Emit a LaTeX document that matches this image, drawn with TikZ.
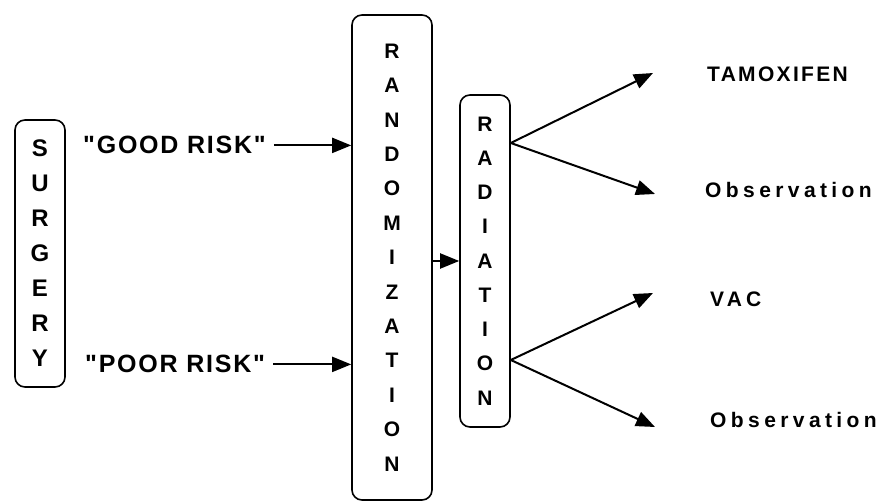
\documentclass[tikz,border=0pt]{standalone}
\usepackage{fontspec}
\setmainfont{Liberation Sans}[Ligatures=TeXOff]
\usetikzlibrary{arrows.meta,calc}

\tikzset{
vbox/.style={draw,line width=1.6pt,rounded corners=10pt,align=center,inner sep=0pt},
lbl/.style={inner sep=0pt,anchor=base west},
arr/.style={line width=2pt,-{Triangle[length=19pt,width=15pt]}}
}

\begin{document}
\begin{tikzpicture}[x=1pt,y=-1pt]
\useasboundingbox (0,0) rectangle (879,502);
\path
(40,253.5)  node[vbox,minimum width=50pt,minimum height=267pt,
  font=\fontsize{24}{35}\selectfont\bfseries] (surg) {S\\U\\R\\G\\E\\R\\Y}
(392,257.5) node[vbox,minimum width=80pt,minimum height=485pt,
  font=\fontsize{21}{34.4}\selectfont\bfseries] (rand) {R\\A\\N\\D\\O\\M\\I\\Z\\A\\T\\I\\O\\N}
(485,261)   node[vbox,minimum width=50pt,minimum height=332pt,
  font=\fontsize{21}{34.25}\selectfont\bfseries] (rad) {R\\A\\D\\I\\A\\T\\I\\O\\N}
(83,154)  node[lbl,font=\fontsize{25}{30}\selectfont\bfseries\addfontfeature{LetterSpace=7}] (good) {"GOOD RISK"}
(85,373)  node[lbl,font=\fontsize{25}{30}\selectfont\bfseries\addfontfeature{LetterSpace=7}] (poor) {"POOR RISK"}
(707,82)  node[lbl,font=\fontsize{21}{25}\selectfont\bfseries\addfontfeature{LetterSpace=11}] (tam) {TAMOXIFEN}
(705,198) node[lbl,font=\fontsize{21}{25}\selectfont\bfseries\addfontfeature{LetterSpace=21}] (obs1) {Observation}
(710,307) node[lbl,font=\fontsize{21}{25}\selectfont\bfseries\addfontfeature{LetterSpace=20}] (vac) {VAC}
(710,428) node[lbl,font=\fontsize{21}{25}\selectfont\bfseries\addfontfeature{LetterSpace=21}] (obs2) {Observation}
;
% branch points and arrow tips
\coordinate (up) at (rad.east |- 0,143);
\coordinate (lo) at (rad.east |- 0,360);
\coordinate (t1) at (653,73);
\coordinate (t2) at (655,194);
\coordinate (t3) at (653,293);
\coordinate (t4) at (655,427);

\draw[arr] ([xshift=8pt]good.east) -- (good.east -| rand.west);
\draw[arr] ([xshift=8pt]poor.east) -- (poor.east -| rand.west);
\draw[arr] (rand.east |- rad.west) -- (rad.west);
\draw[arr] (up) -- (t1);
\draw[arr] (up) -- (t2);
\draw[arr] (lo) -- (t3);
\draw[arr] (lo) -- (t4);
\end{tikzpicture}
\end{document}
